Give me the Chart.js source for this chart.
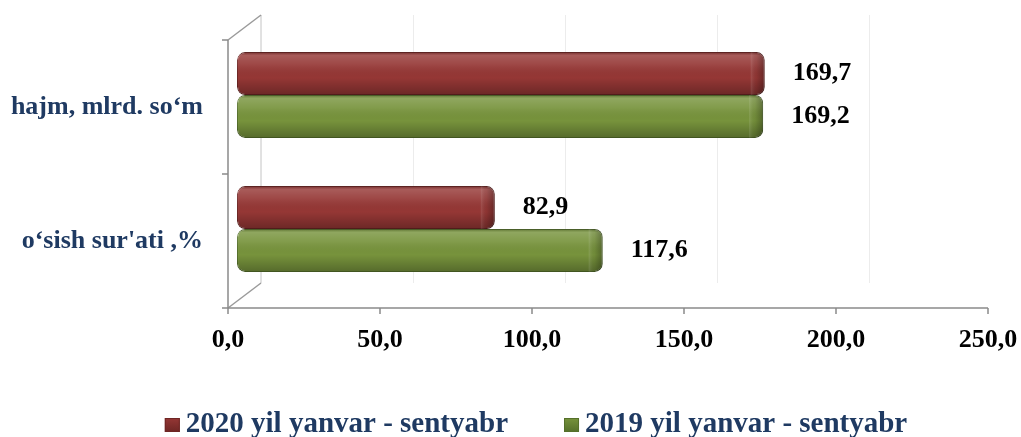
<!DOCTYPE html>
<html>
<head>
<meta charset="utf-8">
<script src="https://cdn.jsdelivr.net/npm/chart.js@4.4.1/dist/chart.umd.min.js"></script>
<style>
  html, body { margin: 0; padding: 0; background: #fff; }
</style>
</head>
<body>
<canvas id="result_chart" width="1021" height="437"></canvas>
<script>
// Chart data
const categories = ['hajm, mlrd. so‘m', "o‘sish sur'ati ,%"];
const seriesNames = ['2020 yil yanvar - sentyabr', '2019 yil yanvar - sentyabr'];
const values2020 = [169.7, 82.9];
const values2019 = [169.2, 117.6];
const tickValues = [0, 50, 100, 150, 200, 250];

const FONT = "'Liberation Serif', 'Times New Roman', serif";
const NAVY = '#1F3A62';
const fills = ['#953735', '#77933C'];
const edges = ['#6E2624', '#55702A'];

const fmt = v => v.toFixed(1).replace('.', ',');

// front face of the 3D box sits 12px below the plot area, back wall further up/right
const DEPTH_X = 33, DEPTH_Y = -25, FRONT_SHIFT = 12;

const line = (ctx, x1, y1, x2, y2) => {
    ctx.beginPath();
    ctx.moveTo(x1, y1);
    ctx.lineTo(x2, y2);
    ctx.stroke();
};

const frame3d = {
    id: 'frame3d',
    beforeDatasetsDraw(chart) {
        const ctx = chart.ctx;
        const a = chart.chartArea;
        const xs = chart.scales.x;
        const fl = a.left, fr = a.right, ft = a.top + FRONT_SHIFT, fb = a.bottom + FRONT_SHIFT;
        ctx.save();
        // back wall grid
        ctx.strokeStyle = '#ececec';
        ctx.lineWidth = 1;
        xs.ticks.forEach(t => {
            const px = Math.round(xs.getPixelForValue(t.value) + DEPTH_X) + 0.5;
            if (t.value > 0) line(ctx, px, ft + DEPTH_Y, px, fb + DEPTH_Y);
        });
        ctx.strokeStyle = '#c4c4c4';
        line(ctx, fl + DEPTH_X, ft + DEPTH_Y, fl + DEPTH_X, fb + DEPTH_Y);
        ctx.strokeStyle = '#9a9a9a';
        ctx.lineWidth = 1.5;
        line(ctx, fl, ft, fl + DEPTH_X, ft + DEPTH_Y);
        line(ctx, fl, fb, fl + DEPTH_X, fb + DEPTH_Y);
        // front axes
        ctx.strokeStyle = '#8a8a8a';
        line(ctx, fl, ft, fl, fb);
        line(ctx, fl, fb, fr, fb);
        const n = categories.length;
        for (let i = 0; i <= n; i++) {
            const py = ft + i * (fb - ft) / n;
            line(ctx, fl - 6, py, fl, py);
        }
        xs.ticks.forEach(t => {
            const px = xs.getPixelForValue(t.value);
            line(ctx, px, fb, px, fb + 6);
        });
        ctx.restore();
    }
};

const gloss = {
    id: 'gloss',
    afterDatasetsDraw(chart) {
        const ctx = chart.ctx;
        chart.data.datasets.forEach((ds, di) => {
            chart.getDatasetMeta(di).data.forEach((bar, i) => {
                const { x, y, base, height } = bar.getProps(['x', 'y', 'base', 'height'], true);
                const top = y - height / 2;
                ctx.save();
                ctx.beginPath();
                ctx.roundRect(base, top, x - base, height, 8);
                ctx.clip();
                const g = ctx.createLinearGradient(0, top, 0, top + height);
                g.addColorStop(0, 'rgba(0,0,0,0.25)');
                g.addColorStop(0.08, 'rgba(255,255,255,0.18)');
                g.addColorStop(0.3, 'rgba(255,255,255,0.08)');
                g.addColorStop(0.6, 'rgba(0,0,0,0)');
                g.addColorStop(1, 'rgba(0,0,0,0.28)');
                ctx.fillStyle = g;
                ctx.fillRect(base, top, x - base, height);
                const h = ctx.createLinearGradient(x - 14, 0, x, 0);
                h.addColorStop(0, 'rgba(255,255,255,0.12)');
                h.addColorStop(0.4, 'rgba(0,0,0,0.05)');
                h.addColorStop(1, 'rgba(0,0,0,0.3)');
                ctx.fillStyle = h;
                ctx.fillRect(x - 14, top, 14, height);
                ctx.restore();

                // value label
                ctx.save();
                ctx.font = 'bold 26px ' + FONT;
                ctx.fillStyle = '#000';
                ctx.textBaseline = 'middle';
                ctx.textAlign = 'left';
                ctx.fillText(fmt(ds.data[i]), x + 28, y);
                ctx.restore();
            });
        });
    }
};

const legendBottom = {
    id: 'legendBottom',
    afterDraw(chart) {
        const ctx = chart.ctx;
        ctx.save();
        ctx.font = 'bold 29px ' + FONT;
        const box = 15, gapBox = 6, gapItems = 56;
        const widths = seriesNames.map(n => ctx.measureText(n).width);
        const total = widths.reduce((s, w) => s + box + gapBox + w, 0) + gapItems * (seriesNames.length - 1);
        let x = chart.width * 0.525 - total / 2;
        const baseline = 432;
        seriesNames.forEach((name, i) => {
            const g = ctx.createLinearGradient(x, baseline - 14, x, baseline);
            g.addColorStop(0, fills[i]);
            g.addColorStop(1, edges[i]);
            ctx.fillStyle = g;
            ctx.fillRect(x, baseline - 14, box, 14);
            ctx.strokeStyle = edges[i];
            ctx.lineWidth = 1;
            ctx.strokeRect(x + 0.5, baseline - 13.5, box - 1, 13);
            x += box + gapBox;
            ctx.fillStyle = NAVY;
            ctx.textBaseline = 'alphabetic';
            ctx.fillText(name, x, baseline);
            x += widths[i] + gapItems;
        });
        ctx.restore();
    }
};

const noPad = s => {
    s.paddingLeft = 0;
    s.paddingRight = 0;
    s.paddingTop = 0;
    s.paddingBottom = 0;
};

const config = {
    type: 'bar',
    data: {
        labels: categories,
        datasets: [
            {
                label: seriesNames[0],
                data: values2020,
                xAxisID: 'xBar',
                backgroundColor: fills[0],
                borderColor: edges[0],
                borderWidth: 1,
                borderRadius: 8,
                borderSkipped: false,
                barPercentage: 1.0,
                categoryPercentage: 0.64
            },
            {
                label: seriesNames[1],
                data: values2019,
                xAxisID: 'xBar',
                backgroundColor: fills[1],
                borderColor: edges[1],
                borderWidth: 1,
                borderRadius: 8,
                borderSkipped: false,
                barPercentage: 1.0,
                categoryPercentage: 0.64
            }
        ]
    },
    options: {
        indexAxis: 'y',
        responsive: false,
        animation: false,
        layout: { padding: { top: 28, right: 33, left: 0, bottom: 0 } },
        plugins: {
            legend: { display: false },
            tooltip: { enabled: false }
        },
        scales: {
            x: {
                position: 'bottom',
                min: tickValues[0],
                max: tickValues[tickValues.length - 1],
                grid: { display: false, drawTicks: false },
                border: { display: false },
                ticks: {
                    stepSize: tickValues[1] - tickValues[0],
                    padding: 29,
                    color: '#000',
                    font: { family: FONT, size: 26, weight: 'bold' },
                    maxRotation: 0,
                    callback: v => fmt(v)
                },
                afterFit: s => { s.height = 141; noPad(s); }
            },
            // bars sit a little deeper in the 3D box than the front axis
            xBar: {
                display: false,
                position: 'bottom',
                min: -2.9,
                max: 241.5,
                afterFit: s => { noPad(s); }
            },
            y: {
                grid: { display: false, drawTicks: false },
                border: { display: false },
                ticks: {
                    padding: 25,
                    labelOffset: 12,
                    color: NAVY,
                    font: { family: FONT, size: 26, weight: 'bold' }
                },
                afterFit: s => { s.width = 228; noPad(s); }
            }
        }
    },
    plugins: [frame3d, gloss, legendBottom]
};

new Chart(document.getElementById('result_chart'), config);
</script>
</body>
</html>
